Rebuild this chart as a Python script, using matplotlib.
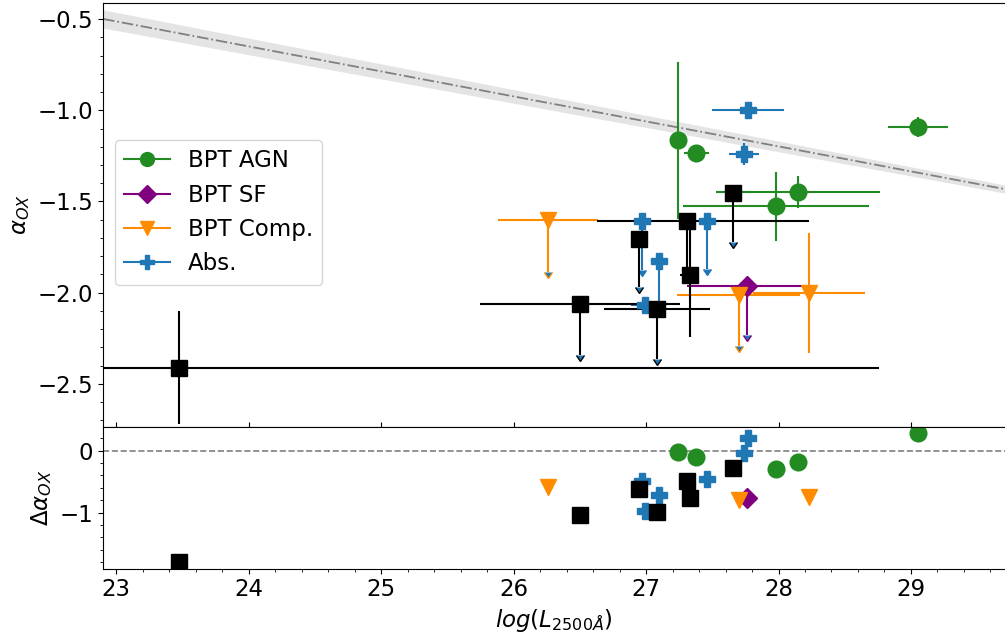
import numpy as np
import matplotlib
matplotlib.use('Agg')
from matplotlib import pyplot as plt
from matplotlib.lines import Line2D
from matplotlib.ticker import MultipleLocator

# BPT AGN
agn_x = [27.24, 27.38, 29.05, 28.15, 27.98]
agn_y = [-1.165, -1.232, -1.092, -1.449, -1.526]
agn_xerr = [0.0, 0.095, 0.227, 0.62, 0.70]
agn_yerr = [0.43, 0.04, 0.057, 0.087, 0.19]
agn_uplim = [False, False, False, False, False]
agn_dalpha = [-0.03, -0.11, 0.28, -0.19, -0.30]

# BPT SF
sf_x = [27.76]
sf_y = [-1.962]
sf_xerr = [0.45]
sf_yerr = [0.27]
sf_uplim = [True]
sf_dalpha = [-0.77]

# BPT Comp.
comp_x = [26.26, 27.70, 28.23]
comp_y = [-1.604, -2.01, -2.00]
comp_xerr = [0.38, 0.465, 0.42]
comp_yerr = [0.28, 0.28, 0.33]
comp_uplim = [True, True, False]
comp_dalpha = [-0.59, -0.80, -0.74]

# Abs.
abs_x = [27.77, 27.74, 26.97, 27.10, 26.99, 27.46]
abs_y = [-0.996, -1.242, -1.608, -1.824, -2.07, -1.608]
abs_xerr = [0.27, 0.116, 0.0, 0.0, 0.10, 0.0]
abs_yerr = [0.03, 0.06, 0.27, 0.27, 0.0, 0.26]
abs_uplim = [False, False, True, True, False, True]
abs_dalpha = [0.20, -0.04, -0.49, -0.71, -0.98, -0.46]

# no emission lines (black)
oth_x = [23.47, 26.50, 27.08, 26.95, 27.31, 27.33, 27.66]
oth_y = [-2.41, -2.064, -2.09, -1.705, -1.608, -1.901, -1.454]
oth_xerr_lo = [5.29, 0.753, 0.40, 0.0, 0.68, 0.07, 0.0]
oth_xerr_hi = [5.29, 0.753, 0.40, 0.0, 0.92, 0.07, 0.0]
oth_yerr = [0.307, 0.275, 0.275, 0.266, 0.275, 0.34, 0.27]
oth_uplim = [False, True, True, True, True, False, True]
oth_dalpha = [-1.79, -1.04, -0.99, -0.62, -0.49, -0.76, -0.28]

# alpha_ox - L2500 relation and its spread
rel_slope, rel_icpt = -0.137, 2.638
rel_hi = (-0.1411, 2.782)
rel_lo = (-0.1329, 2.494)


def draw_group(ax, x, y, xerr, yerr, uplim, color, marker, ms):
    x = np.asarray(x)
    y = np.asarray(y)
    xerr = np.asarray(xerr)
    yerr = np.asarray(yerr)
    lim = np.asarray(uplim, bool)
    ax.errorbar(x, y, xerr=xerr, fmt='none', ecolor=color, elinewidth=1.5, capsize=0)
    if (~lim).any():
        ax.errorbar(x[~lim], y[~lim], yerr=yerr[~lim], fmt='none', ecolor=color,
                    elinewidth=1.5, capsize=0)
    if lim.any():
        ax.errorbar(x[lim], y[lim], yerr=yerr[lim], uplims=True, fmt='none',
                    ecolor=color, elinewidth=1.5, capsize=3)
    ax.plot(x, y, ls='none', marker=marker, color=color, ms=ms, zorder=3)


plt.rcParams.update({'font.size': 16.5})
fig = plt.figure(figsize=(10.05, 6.37), dpi=100)
ax1 = fig.add_axes([0.1025, 0.3297, 0.8975, 0.6656])
ax2 = fig.add_axes([0.1025, 0.1075, 0.8975, 0.2222], sharex=ax1)

lgrid = np.linspace(22.9, 29.71, 50)
ax1.fill_between(lgrid, rel_lo[0] * lgrid + rel_lo[1], rel_hi[0] * lgrid + rel_hi[1],
                 color='lightgray', alpha=0.6, lw=0)
ax1.plot(lgrid, rel_slope * lgrid + rel_icpt, color='gray', ls='-.', lw=1.3)

c_agn, c_sf, c_comp, c_abs = 'forestgreen', 'purple', 'darkorange', 'tab:blue'
draw_group(ax1, abs_x, abs_y, abs_xerr, abs_yerr, abs_uplim, c_abs, 'P', 12)
draw_group(ax1, agn_x, agn_y, agn_xerr, agn_yerr, agn_uplim, c_agn, 'o', 12)
draw_group(ax1, sf_x, sf_y, sf_xerr, sf_yerr, sf_uplim, c_sf, 'D', 10)
draw_group(ax1, comp_x, comp_y, comp_xerr, comp_yerr, comp_uplim, c_comp, 'v', 12)
draw_group(ax1, oth_x, oth_y, [oth_xerr_lo, oth_xerr_hi], oth_yerr, oth_uplim, 'black', 's', 12)

ax2.axhline(0, color='gray', ls='--', lw=1.2)
ax2.plot(abs_x, abs_dalpha, ls='none', marker='P', color=c_abs, ms=12)
ax2.plot(agn_x, agn_dalpha, ls='none', marker='o', color=c_agn, ms=12)
ax2.plot(sf_x, sf_dalpha, ls='none', marker='D', color=c_sf, ms=10)
ax2.plot(comp_x, comp_dalpha, ls='none', marker='v', color=c_comp, ms=12)
ax2.plot(oth_x, oth_dalpha, ls='none', marker='s', color='black', ms=12)

handles = [Line2D([], [], color=c_agn, marker='o', ms=10, lw=1.5),
           Line2D([], [], color=c_sf, marker='D', ms=9, lw=1.5),
           Line2D([], [], color=c_comp, marker='v', ms=10, lw=1.5),
           Line2D([], [], color=c_abs, marker='P', ms=10, lw=1.5)]
ax1.legend(handles, ['BPT AGN', 'BPT SF', 'BPT Comp.', 'Abs.'], loc='upper left',
           bbox_to_anchor=(0.013, 0.677), borderaxespad=0, fontsize=16.5)

ax1.set_xlim(22.9, 29.71)
ax1.set_ylim(-2.736, -0.412)
ax2.set_ylim(-1.9, 0.38)

ax1.yaxis.set_major_locator(MultipleLocator(0.5))
ax1.yaxis.set_minor_locator(MultipleLocator(0.1))
ax1.xaxis.set_major_locator(MultipleLocator(1))
ax2.xaxis.set_minor_locator(MultipleLocator(0.2))
ax2.yaxis.set_major_locator(MultipleLocator(1))
ax2.yaxis.set_minor_locator(MultipleLocator(0.2))
ax1.tick_params(axis='x', which='major', direction='in', labelbottom=False)
ax1.tick_params(axis='x', which='minor', bottom=False)
ax1.spines['right'].set_visible(False)
ax2.spines['right'].set_visible(False)

ax1.set_ylabel(r'$\alpha_{OX}$')
ax2.set_ylabel(r'$\Delta\alpha_{OX}$')
ax2.set_xlabel(r'$log(L_{2500\AA})$')

fig.savefig('out.png', dpi=100)
